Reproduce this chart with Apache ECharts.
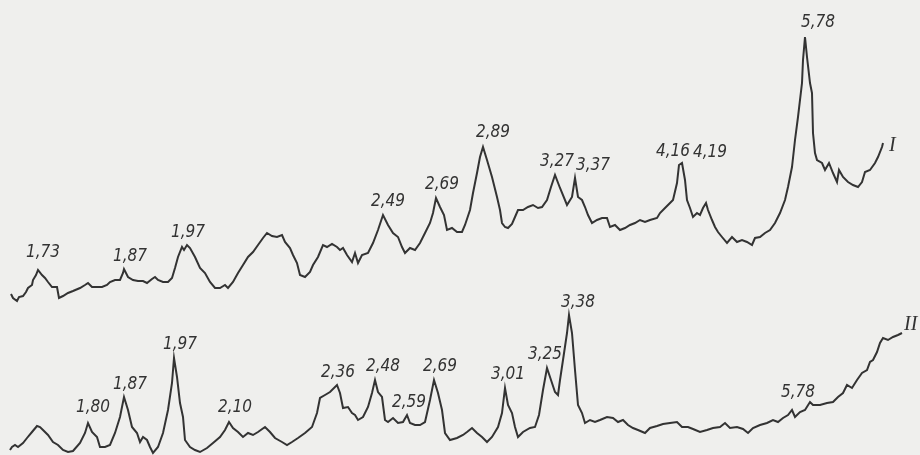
<!DOCTYPE html>
<html>
<head>
<meta charset="utf-8">
<script src="https://cdn.jsdelivr.net/npm/echarts@6/dist/echarts.min.js"></script>
<style>
  html, body { margin: 0; padding: 0; background: #efefed; }
  #chart { width: 920px; height: 455px; }
</style>
</head>
<body>
<div id="chart"></div>
<script>
// Diffractogram traces: position along the recording strip and recorded intensity.
const posI = [11,13,17,19,23,26,28,32,33,36,38,42,45,48,52,54,57,59,63,68,73,80,85,88,92,97,102,107,110,115,120,123,124,128,133,138,143,147,152,155,158,163,168,172,175,178,182,184,187,190,195,200,205,210,215,220,225,228,233,238,243,248,253,258,263,267,272,277,282,285,290,293,297,300,305,310,313,318,323,327,332,337,340,343,347,352,355,358,362,368,373,378,383,388,393,398,402,405,410,415,420,425,430,433,436,440,444,447,452,457,462,465,470,473,477,480,483,487,492,497,500,502,505,508,512,515,518,523,528,533,538,542,547,551,555,560,567,572,575,578,582,585,588,592,597,602,607,610,615,620,625,630,635,640,645,650,657,660,665,670,673,677,679,682,683,685,687,690,693,697,700,703,706,708,712,715,718,722,727,732,737,742,747,752,755,760,765,770,775,780,785,788,792,795,798,802,803,805,807,810,812,813,815,817,822,825,829,833,837,839,843,848,853,858,862,865,870,875,878,882,883];
const intI = [161,157,154,158,159,163,167,170,175,180,185,180,177,173,168,167,168,157,159,162,164,167,170,172,168,168,168,170,173,175,175,182,186,178,175,174,174,172,176,178,175,173,173,177,187,198,208,205,210,207,198,187,182,173,167,167,170,167,173,182,190,198,203,210,217,222,219,218,220,213,207,200,192,180,178,183,190,198,210,208,211,208,205,207,200,193,202,192,200,202,212,225,240,230,222,218,208,202,207,205,212,222,232,242,257,248,240,225,227,223,223,230,245,262,282,298,308,295,278,258,245,232,228,227,231,238,245,245,248,250,247,248,255,268,280,267,250,258,277,258,255,248,240,232,235,237,237,228,230,225,227,230,232,235,233,235,237,242,247,252,255,272,290,292,290,275,255,247,238,242,240,247,252,245,235,228,223,218,212,218,213,215,213,210,217,218,222,225,232,242,255,268,288,315,338,372,395,418,398,372,362,322,302,295,292,285,292,282,273,285,278,273,270,268,273,283,285,292,298,308,312];

const posII = [10,12,15,18,23,27,32,37,40,43,48,53,58,63,68,73,80,85,88,92,97,100,105,110,115,120,124,128,132,137,140,143,147,150,153,158,163,168,172,174,177,180,183,185,190,195,200,207,213,220,225,229,233,238,243,248,253,258,265,270,275,282,287,292,298,305,312,317,320,325,330,337,340,343,348,352,355,358,363,368,372,375,378,382,385,388,393,398,403,407,410,415,420,425,430,434,438,442,445,450,457,463,467,472,477,482,487,492,498,502,505,508,512,515,518,523,530,535,539,543,547,551,555,558,560,563,567,569,572,575,578,582,585,590,595,600,607,613,618,623,628,633,638,645,650,657,663,670,677,682,688,693,700,707,713,720,725,730,737,743,748,753,760,767,773,778,783,788,792,795,800,805,810,813,820,827,833,838,843,847,852,857,862,867,870,873,877,880,883,888,893,898,902];
const intII = [5,8,10,8,12,17,23,29,28,25,20,13,10,5,3,4,12,22,32,23,18,8,8,10,22,38,58,45,28,22,13,18,15,8,2,8,22,45,72,97,78,52,38,15,8,5,3,7,12,18,25,33,27,23,18,22,20,23,28,23,17,13,10,13,17,22,28,42,57,60,63,70,62,47,48,42,40,35,38,48,62,75,63,58,35,33,37,32,33,40,32,30,30,33,55,75,62,45,22,15,17,20,23,27,22,18,13,18,28,42,67,50,42,28,18,23,27,28,40,65,87,75,63,60,75,95,122,140,122,85,50,42,32,35,33,35,38,37,33,35,30,27,25,22,27,29,31,32,33,28,28,26,23,25,27,28,32,27,28,26,22,27,30,32,35,33,37,40,45,38,43,45,53,50,50,52,53,58,62,70,67,75,82,85,93,95,103,112,117,115,118,120,122];

// Interplanar spacings (Å) written over the reflections, with the trace position of each reflection.
const peakTextI = ['1,73','1,87','1,97','2,49','2,69','2,89','3,27','3,37','4,16','4,19','5,78'];
const peakPosI  = [38,124,182,383,436,483,555,575,682,706,805];
const peakTextII = ['1,80','1,87','1,97','2,10','2,36','2,48','2,59','2,69','3,01','3,25','3,38','5,78'];
const peakPosII  = [88,124,174,229,337,375,407,434,505,547,569,810];

// Where each spacing label sits relative to its reflection (pixels).
const labelShiftI = [[5,-17],[6,-12],[6,-14],[5,-13],[6,-13],[10,-14],[2,-13],[18,-12],[-9,-11],[4,-50],[13,-14]];
const labelShiftII = [[5,-15],[6,-12],[6,-13],[6,-14],[1,-12],[8,-13],[2,-12],[6,-13],[3,-13],[-2,-13],[9,-12],[-12,-9]];

const INK = '#333333';
const labelFont = {
  color: INK,
  fontFamily: "'DejaVu Sans Condensed', 'Liberation Sans Narrow', sans-serif",
  fontStyle: 'italic',
  fontSize: 17
};

function pairs(xs, ys) { return xs.map((x, i) => [x, ys[i]]); }

function marks(texts, positions, xs, ys, shifts) {
  return texts.map((t, i) => {
    const k = xs.indexOf(positions[i]);
    return {
      coord: [positions[i], ys[k]],
      value: t,
      label: Object.assign({ show: true, position: 'inside', formatter: t, offset: shifts[i] }, labelFont)
    };
  });
}

function trace(name, xs, ys, texts, positions, shifts, endText, endShift) {
  return {
    name: name,
    type: 'line',
    data: pairs(xs, ys),
    showSymbol: false,
    symbol: 'none',
    silent: true,
    animation: false,
    lineStyle: { color: INK, width: 2, join: 'miter' },
    endLabel: {
      show: true,
      formatter: endText,
      distance: 2,
      color: INK,
      fontFamily: "'Liberation Serif', 'DejaVu Serif', serif",
      fontStyle: 'italic',
      fontSize: 20,
      offset: endShift
    },
    markPoint: {
      symbol: 'circle',
      symbolSize: 0,
      silent: true,
      animation: false,
      itemStyle: { color: 'rgba(0,0,0,0)' },
      data: marks(texts, positions, xs, ys, shifts)
    }
  };
}

const chart = echarts.init(document.getElementById('chart'), null, { renderer: 'canvas' });
chart.setOption({
  backgroundColor: '#efefed',
  animation: false,
  grid: { left: 0, right: 0, top: 0, bottom: 0 },
  xAxis: { type: 'value', min: 0, max: 920, show: false },
  yAxis: { type: 'value', min: 0, max: 455, show: false },
  series: [
    trace('I', posI, intI, peakTextI, peakPosI, labelShiftI, 'I', [4, 3]),
    trace('II', posII, intII, peakTextII, peakPosII, labelShiftII, 'II', [0, -8])
  ]
});
</script>
</body>
</html>
